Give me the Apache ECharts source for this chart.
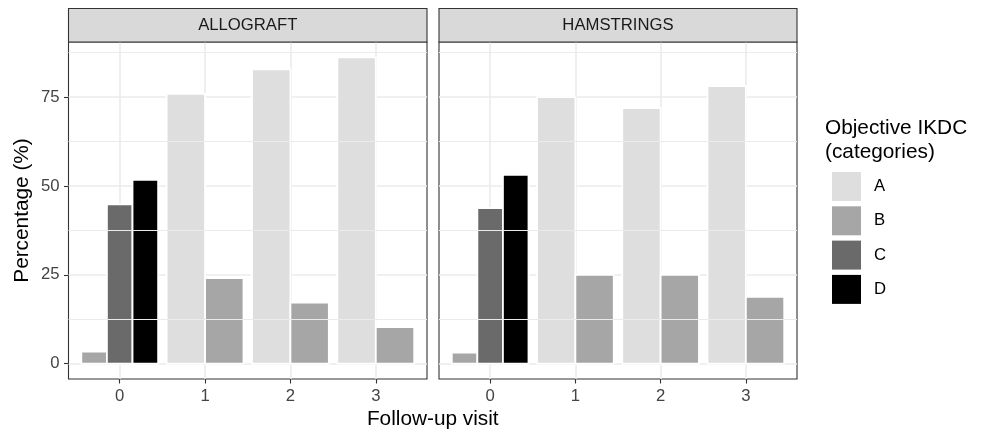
<!DOCTYPE html>
<html>
<head>
<meta charset="utf-8">
<script src="https://cdn.jsdelivr.net/npm/echarts@6/dist/echarts.min.js"></script>
<style>
  html, body { margin: 0; padding: 0; background: #fff; }
  #chart { width: 990px; height: 436px; }
</style>
</head>
<body>
<div id="chart"></div>
<script>
// Objective IKDC category shares per follow-up visit, by graft type
const visits = [0, 1, 2, 3];
const categories = ['A', 'B', 'C', 'D'];
const panels = ['ALLOGRAFT', 'HAMSTRINGS'];

const allograftA = [null, 75.9, 82.8, 86.2];
const allograftB = [3.4, 24.1, 17.2, 10.3];
const allograftC = [44.8, null, null, null];
const allograftD = [51.7, null, null, null];

const hamstringsA = [null, 75.0, 71.9, 78.1];
const hamstringsB = [3.1, 25.0, 25.0, 18.8];
const hamstringsC = [43.8, null, null, null];
const hamstringsD = [53.1, null, null, null];

const yTicks = [0, 25, 50, 75];
const yMinorTicks = [12.5, 37.5, 62.5, 87.5];

const panelValues = [
  [allograftA, allograftB, allograftC, allograftD],
  [hamstringsA, hamstringsB, hamstringsC, hamstringsD]
];

// styling
const fills = ['#DEDEDE', '#A6A6A6', '#6A6A6A', '#000000'];
const FONT = '"Liberation Sans", Arial, sans-serif';
const INK = '#333333';
const GRIDC = '#EBEBEB';
const panelBoxes = [
  { left: 68.5, width: 358.5 },
  { left: 439, width: 358 }
];
const panelTop = 42, panelHeight = 337, stripTop = 8.5;

// shared y scale with 5% expansion; discrete x with 0.6 expansion
let yMaxData = 0;
panelValues.forEach(p => p.forEach(s => s.forEach(v => { if (v != null) yMaxData = Math.max(yMaxData, v); })));
const yPad = yMaxData * 0.05;
const yMin = -yPad, yMax = yMaxData + yPad;

// which categories are present at each visit (for dodging)
const present = panelValues.map(p => visits.map((v, i) =>
  categories.map((c, k) => k).filter(k => p[k][i] != null)));

const chart = echarts.init(document.getElementById('chart'), null, { renderer: 'canvas' });

const grids = panelBoxes.map(b => ({
  left: b.left, top: panelTop, width: b.width, height: panelHeight,
  show: true, borderColor: INK, borderWidth: 1.1, backgroundColor: '#fff',
  containLabel: false
}));

const xAxes = panels.map((p, gi) => ({
  type: 'value', gridIndex: gi, min: -0.6, max: 3.6, position: 'bottom',
  axisLine: { show: false, onZero: false },
  axisTick: { show: true, customValues: visits, length: 4.5, lineStyle: { color: INK, width: 1.1 } },
  axisLabel: { customValues: visits, fontSize: 16.7, color: '#444444', fontFamily: FONT, margin: 9 },
  splitLine: { show: true, lineStyle: { color: GRIDC, width: 1.6 } }
}));

const yAxes = panels.map((p, gi) => ({
  type: 'value', gridIndex: gi, min: yMin, max: yMax, position: 'left',
  axisLine: { show: false, onZero: false },
  axisTick: { show: gi === 0, customValues: yTicks, length: 4.5, lineStyle: { color: INK, width: 1.1 } },
  axisLabel: { show: gi === 0, customValues: yTicks, fontSize: 16.7, color: '#444444', fontFamily: FONT, margin: 9 },
  splitLine: { show: true, lineStyle: { color: GRIDC, width: 1.6 } }
}));

const series = [];
panels.forEach((p, gi) => {
  // minor horizontal grid lines
  series.push({
    type: 'line', xAxisIndex: gi, yAxisIndex: gi, data: [], z: 1, silent: true,
    markLine: {
      silent: true, symbol: 'none', label: { show: false },
      lineStyle: { color: GRIDC, width: 1.0, type: 'solid' },
      data: yMinorTicks.map(v => ({ yAxis: v }))
    }
  });
  categories.forEach((cat, k) => {
    const vals = panelValues[gi][k];
    const data = [];
    visits.forEach((v, i) => { if (vals[i] != null) data.push([v, vals[i]]); });
    series.push({
      name: cat, type: 'custom', xAxisIndex: gi, yAxisIndex: gi, z: 3,
      itemStyle: { color: fills[k] },
      encode: { x: 0, y: 1 },
      data: data,
      renderItem: function (params, api) {
        const x = api.value(0), y = api.value(1);
        const slots = present[gi][visits.indexOf(x)];
        const n = slots.length, idx = slots.indexOf(k);
        const w = 0.9 / n;
        const x0 = x - 0.45 + idx * w;
        const p0 = api.coord([x0, 0]);
        const p1 = api.coord([x0 + w, y]);
        return {
          type: 'rect',
          shape: { x: p0[0], y: p1[1], width: p1[0] - p0[0], height: p0[1] - p1[1] },
          style: { fill: fills[k], stroke: '#ffffff', lineWidth: 1.8 }
        };
      }
    });
  });
});

const graphics = [];
panels.forEach((p, gi) => {
  const b = panelBoxes[gi];
  graphics.push({
    type: 'rect', z: 10,
    shape: { x: b.left, y: stripTop, width: b.width, height: panelTop - stripTop },
    style: { fill: '#D9D9D9', stroke: INK, lineWidth: 1.1 }
  });
  graphics.push({
    type: 'text', z: 11, x: b.left + b.width / 2, y: (stripTop + panelTop) / 2 + 0.5,
    style: { text: p, fontSize: 16.7, fontFamily: FONT, fill: '#1A1A1A', align: 'center', verticalAlign: 'middle' }
  });
});
graphics.push({
  type: 'text', x: 22, y: panelTop + panelHeight / 2, rotation: Math.PI / 2,
  style: { text: 'Percentage (%)', fontSize: 20.8, fontFamily: FONT, fill: '#000', align: 'center', verticalAlign: 'middle' }
});
graphics.push({
  type: 'text', x: (panelBoxes[0].left + panelBoxes[1].left + panelBoxes[1].width) / 2, y: 419,
  style: { text: 'Follow-up visit', fontSize: 20.8, fontFamily: FONT, fill: '#000', align: 'center', verticalAlign: 'middle' }
});
graphics.push({
  type: 'text', x: 825, y: 117,
  style: { text: 'Objective IKDC\n(categories)', fontSize: 20.8, lineHeight: 23.5, fontFamily: FONT, fill: '#000', align: 'left', verticalAlign: 'top' }
});

chart.setOption({
  animation: false,
  backgroundColor: '#fff',
  grid: grids,
  xAxis: xAxes,
  yAxis: yAxes,
  legend: {
    data: categories, orient: 'vertical', left: 832, top: 172, padding: 0,
    icon: 'rect', itemWidth: 29, itemHeight: 29, itemGap: 5.3,
    selectedMode: false,
    textStyle: { fontSize: 16.7, fontFamily: FONT, color: '#000', padding: [0, 0, 0, 8] }
  },
  series: series,
  graphic: graphics
});
</script>
</body>
</html>
